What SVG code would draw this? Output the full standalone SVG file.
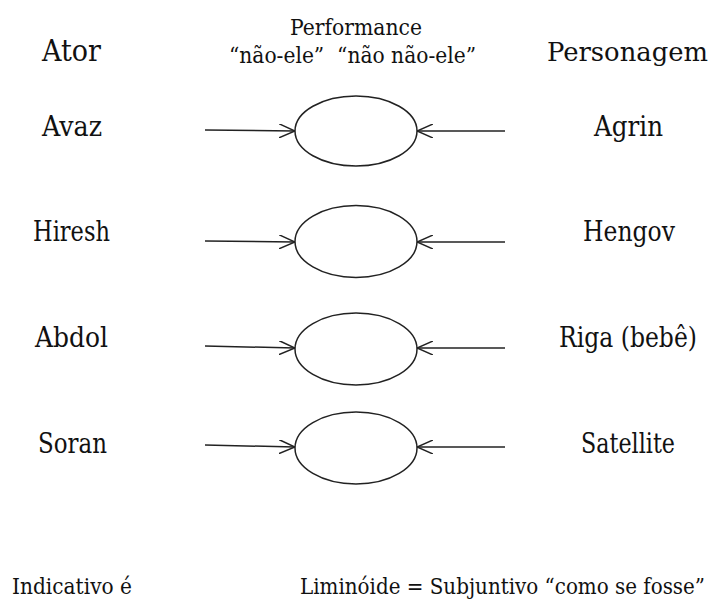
<svg xmlns="http://www.w3.org/2000/svg" width="717" height="605" viewBox="0 0 717 605">
<style>
text{fill:#111;font-family:"DejaVu Serif","Liberation Serif",serif}
.h{font-size:29px}
.l{font-size:27px}
.m{font-size:23px}
.f{font-size:22px}
.e{fill:none;stroke:#222;stroke-width:1.5}
.c{fill:none;stroke:#222;stroke-width:1.5;marker-end:url(#ah)}
</style>
<defs>
<marker id="ah" viewBox="0 0 16 14" refX="16" refY="7" markerWidth="16" markerHeight="14" markerUnits="userSpaceOnUse" orient="auto">
<path d="M0,0 L16,7 L0,14" fill="none" stroke="#222" stroke-width="1.5"/>
</marker>
</defs>
<rect width="717" height="605" fill="#fff"/>
<g id="headers">
<text class="h" x="42" y="61" textLength="59" lengthAdjust="spacingAndGlyphs">Ator</text>
<text x="547" y="61" font-size="26" textLength="161" lengthAdjust="spacingAndGlyphs">Personagem</text>
<text class="m" x="290" y="35" textLength="132" lengthAdjust="spacingAndGlyphs">Performance</text>
<text class="m" x="229" y="63" textLength="247" lengthAdjust="spacingAndGlyphs" xml:space="preserve">“não-ele”  “não não-ele”</text>
</g>
<g id="row1">
<text class="l" x="42" y="136" textLength="60" lengthAdjust="spacingAndGlyphs">Avaz</text>
<ellipse class="e" cx="356" cy="131" rx="61" ry="35"/>
<text class="l" x="594" y="136" textLength="69" lengthAdjust="spacingAndGlyphs">Agrin</text>
</g>
<g id="row2">
<text class="l" x="33" y="241" textLength="77" lengthAdjust="spacingAndGlyphs">Hiresh</text>
<ellipse class="e" cx="356" cy="241.5" rx="61" ry="36"/>
<text class="l" x="583" y="241" textLength="92" lengthAdjust="spacingAndGlyphs">Hengov</text>
</g>
<g id="row3">
<text class="l" x="35" y="347" textLength="73" lengthAdjust="spacingAndGlyphs">Abdol</text>
<ellipse class="e" cx="356" cy="349" rx="61" ry="36"/>
<text class="l" x="559" y="347" textLength="138" lengthAdjust="spacingAndGlyphs">Riga (bebê)</text>
</g>
<g id="row4">
<text class="l" x="38" y="453" textLength="69" lengthAdjust="spacingAndGlyphs">Soran</text>
<ellipse class="e" cx="356" cy="448" rx="61" ry="36"/>
<text class="l" x="581" y="453" textLength="94" lengthAdjust="spacingAndGlyphs">Satellite</text>
</g>
<g id="footer">
<text class="f" x="12" y="594" textLength="120" lengthAdjust="spacingAndGlyphs">Indicativo é</text>
<text class="f" x="705" y="594" text-anchor="end" textLength="405" lengthAdjust="spacingAndGlyphs">Liminóide = Subjuntivo “como se fosse”</text>
</g>
<g id="connectors">
<line class="c" x1="205" y1="130" x2="295" y2="131"/>
<line class="c" x1="505" y1="131" x2="417" y2="131"/>
<line class="c" x1="205" y1="241" x2="295" y2="242"/>
<line class="c" x1="505" y1="242" x2="417" y2="242"/>
<line class="c" x1="205" y1="346" x2="295" y2="348"/>
<line class="c" x1="505" y1="348" x2="417" y2="348"/>
<line class="c" x1="205" y1="445" x2="295" y2="447"/>
<line class="c" x1="505" y1="447" x2="417" y2="447"/>
</g>
</svg>
